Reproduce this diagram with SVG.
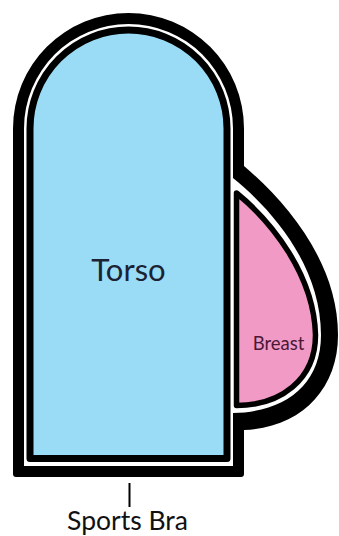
<svg xmlns="http://www.w3.org/2000/svg" width="339" height="536" viewBox="0 0 339 536">
  <style>
    .band { fill: #000; }
    .gap { fill: #fff; }
    .torso { fill: #9ADCF6; stroke: #000; stroke-width: 7; stroke-linejoin: round; }
    .breast { fill: #F29AC6; stroke: #000; stroke-width: 5.5; stroke-linejoin: round; }
    .label { font-family: "Lato", "Liberation Sans", sans-serif; text-anchor: middle; }
    .tick { stroke: #000; stroke-width: 2; }
  </style>
  <rect width="339" height="536" fill="#fff"/>

  <!-- sports bra: thick black band with a thin white lining -->
  <g id="sports-bra">
    <path class="band" d="M 13,474 L 13,128.5 A 115.5,115.5 0 0 1 244,128.5 L 244,166
      C 290,205 338,265 338,335 C 338,390 300,428 244,430 L 244,474 Q 244,477 241,477 L 16,477 Q 13,477 13,474 Z"/>
    <path class="gap" d="M 24,466 L 24,128.5 A 104.5,104.5 0 0 1 233,128.5 L 233,178
      C 275,212 321,268 321,335 C 321,385 285,412 233,413 L 233,466 Z"/>
  </g>

  <!-- torso -->
  <g id="torso">
    <path class="torso" d="M 30,458.5 L 30,128.5 A 98.5,98.5 0 0 1 227,128.5 L 227,458.5 Z"/>
    <text class="label" x="128.5" y="281" font-size="31" fill="#1B2233">Torso</text>
  </g>

  <!-- breast -->
  <g id="breast">
    <path class="breast" d="M 236.5,193 C 272,222 314,275 315.5,335 C 315.5,380 280,405.5 236.5,405.5 Z"/>
    <text class="label" x="278.5" y="350" font-size="18.5" fill="#4A1836">Breast</text>
  </g>

  <!-- pointer to the sports bra -->
  <g id="connectors">
    <line class="tick" x1="129.5" y1="483" x2="129.5" y2="507"/>
  </g>
  <g id="sports-bra-label">
    <text class="label" x="127.5" y="530" font-size="26.5" fill="#111">Sports Bra</text>
  </g>
</svg>
